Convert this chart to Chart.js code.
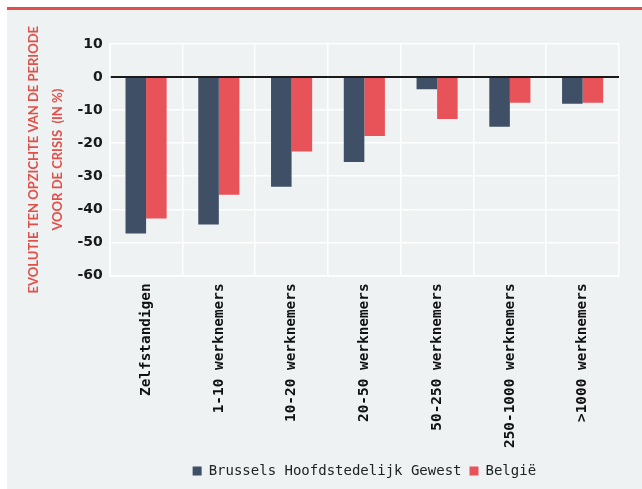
<!DOCTYPE html>
<html>
<head>
<meta charset="utf-8">
<script src="https://cdn.jsdelivr.net/npm/chart.js@4.4.0/dist/chart.umd.min.js"></script>
<style>
    html, body { margin: 0; padding: 0; background: #fff; }
    #panel {
        position: absolute; left: 7px; top: 7px;
        width: 635px; height: 479px;
        background: #eef2f3;
        border-top: 3px solid #e14f48;
    }
    #myChart { display: block; }
</style>
</head>
<body>
<div id="panel">
    <canvas id="myChart" width="635" height="479"></canvas>
</div>
<script>
// categorieën (grootte van de onderneming)
var categories = ["Zelfstandigen", "1-10 werknemers", "10-20 werknemers", "20-50 werknemers",
    "50-250 werknemers", "250-1000 werknemers", ">1000 werknemers"];
// evolutie in % t.o.v. periode voor de crisis
var brussel = [-47.3, -44.6, -33.2, -25.7, -3.7, -15.0, -8.1];
var belgie = [-42.8, -35.6, -22.5, -17.8, -12.7, -7.8, -7.8];
var yTicks = [10, 0, -10, -20, -30, -40, -50, -60];
var yTitle = ["EVOLUTIE TEN OPZICHTE VAN DE PERIODE", "VOOR DE CRISIS  (IN %)"];

window.onload = function() {
    new Chart(document.getElementById("myChart").getContext('2d'), {
        type: "bar",
        data: {
            labels: categories,
            datasets: [{
                label: "Brussels Hoofdstedelijk Gewest",
                data: brussel,
                backgroundColor: "#3e4f66",
                categoryPercentage: 0.565,
                barPercentage: 1,
            }, {
                label: "België",
                data: belgie,
                backgroundColor: "#e8535a",
                categoryPercentage: 0.565,
                barPercentage: 1,
            }],
        },
        options: {
            responsive: false,
            animation: false,
            layout: {
                padding: { left: 14, right: 23, top: 34, bottom: 1 }
            },
            plugins: {
                tooltip: { enabled: false },
                legend: {
                    position: "bottom",
                    fullSize: false,
                    labels: {
                        font: { family: "DejaVu Sans Mono", size: 14 },
                        color: "#222",
                        boxWidth: 9,
                        boxHeight: 9,
                        padding: 8,
                    }
                }
            },
            scales: {
                x: {
                    grid: { color: "#ffffff", lineWidth: 1.5, drawTicks: false },
                    border: { color: "#ffffff", width: 1.5 },
                    ticks: {
                        minRotation: 90,
                        maxRotation: 90,
                        padding: 8,
                        color: "#111",
                        font: { family: "DejaVu Sans Mono", size: 14.4, weight: "bold" },
                    }
                },
                y: {
                    min: yTicks[yTicks.length - 1],
                    max: yTicks[0],
                    afterBuildTicks: function(axis) {
                        axis.ticks = yTicks.slice().reverse().map(function(v) { return { value: v }; });
                    },
                    grid: {
                        drawTicks: false,
                        color: function(ctx) { return ctx.tick && ctx.tick.value === 0 ? "#1a1a1a" : "#ffffff"; },
                        lineWidth: function(ctx) { return ctx.tick && ctx.tick.value === 0 ? 2 : 1.5; },
                    },
                    border: { color: "#ffffff", width: 1.5 },
                    ticks: {
                        padding: 7,
                        color: "#1a1a1a",
                        font: { family: "DejaVu Sans", size: 14, weight: "bold" },
                    },
                    title: {
                        display: true,
                        text: yTitle,
                        color: "#e14f48",
                        font: { family: "Lato", size: 13, weight: "bold", lineHeight: 1.9 },
                        padding: { top: 0, bottom: 0 },
                    }
                }
            }
        }
    });
}
</script>
</body>
</html>
